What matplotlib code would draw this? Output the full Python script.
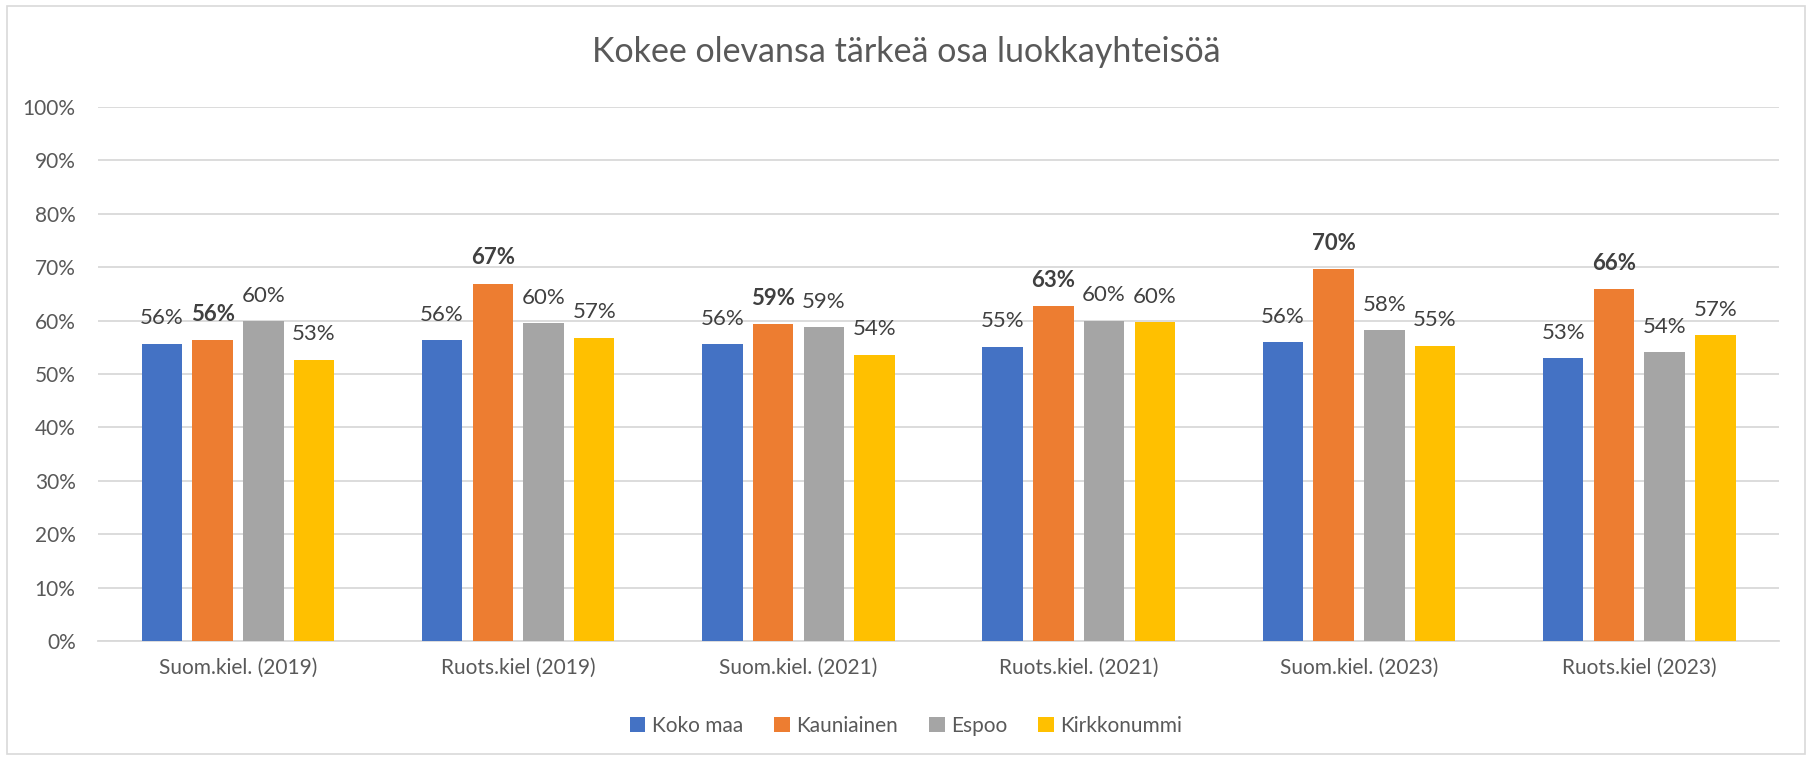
import numpy as np
import matplotlib.pyplot as plt
from matplotlib.patches import Rectangle

plt.rcParams['font.family'] = ['Lato', 'DejaVu Sans']

# Data
categories = ['Suom.kiel. (2019)', 'Ruots.kiel (2019)', 'Suom.kiel. (2021)',
              'Ruots.kiel. (2021)', 'Suom.kiel. (2023)', 'Ruots.kiel (2023)']
series_names = ['Koko maa', 'Kauniainen', 'Espoo', 'Kirkkonummi']
koko_maa = [0.557, 0.563, 0.556, 0.551, 0.560, 0.530]
kauniainen = [0.563, 0.669, 0.593, 0.627, 0.696, 0.659]
espoo = [0.599, 0.595, 0.588, 0.600, 0.582, 0.541]
kirkkonummi = [0.527, 0.568, 0.536, 0.597, 0.553, 0.573]
colors = ['#4472C4', '#ED7D31', '#A5A5A5', '#FFC000']

values = [koko_maa, kauniainen, espoo, kirkkonummi]
bold_series = 'Kauniainen'

fig = plt.figure(figsize=(18.12, 7.6), dpi=100)
ax = fig.add_axes([0.054, 0.1566, 0.928, 0.7025])

x = np.arange(len(categories))
step = 0.181
width = 0.144
text_col = '#595959'

for i, (name, vals, col) in enumerate(zip(series_names, values, colors)):
    pos = x + (i - 1.5) * step
    ax.bar(pos, vals, width=width, color=col, label=name, zorder=3)
    for p, v in zip(pos, vals):
        ax.text(p, v + 0.029, f'{v*100:.0f}%', ha='center', va='bottom',
                fontsize=16, color='#404040',
                fontweight='bold' if name == bold_series else 'normal')

ax.set_xlim(-0.5, len(categories) - 0.5)
ax.set_ylim(0, 1.0)
ax.set_yticks(np.arange(0, 1.01, 0.1))
ax.set_yticklabels([f'{int(round(t*100))}%' for t in np.arange(0, 1.01, 0.1)])
ax.set_xticks(x)
ax.set_xticklabels(categories)
ax.tick_params(axis='both', length=0, labelsize=15, labelcolor=text_col)
ax.tick_params(axis='y', pad=16)
ax.tick_params(axis='x', pad=12)
ax.grid(axis='y', color='#D9D9D9', linewidth=1.3, zorder=0)
for s in ['top', 'right', 'left']:
    ax.spines[s].set_visible(False)
ax.spines['bottom'].set_color('#D9D9D9')
ax.spines['bottom'].set_linewidth(1.3)

fig.text(0.5, 0.932, 'Kokee olevansa tärkeä osa luokkayhteisöä', ha='center', va='center',
         fontsize=24.5, color=text_col)

fig.legend(loc='center', bbox_to_anchor=(0.5, 0.045), ncol=4, frameon=False,
           fontsize=15, labelcolor=text_col, handlelength=0.75, handleheight=0.75,
           handletextpad=0.3, columnspacing=1.5)

fig.patches.append(Rectangle((0.004, 0.008), 0.992, 0.984, transform=fig.transFigure,
                             fill=False, edgecolor='#D9D9D9', linewidth=1.2))

fig.savefig('out.png', dpi=100, facecolor='white')
